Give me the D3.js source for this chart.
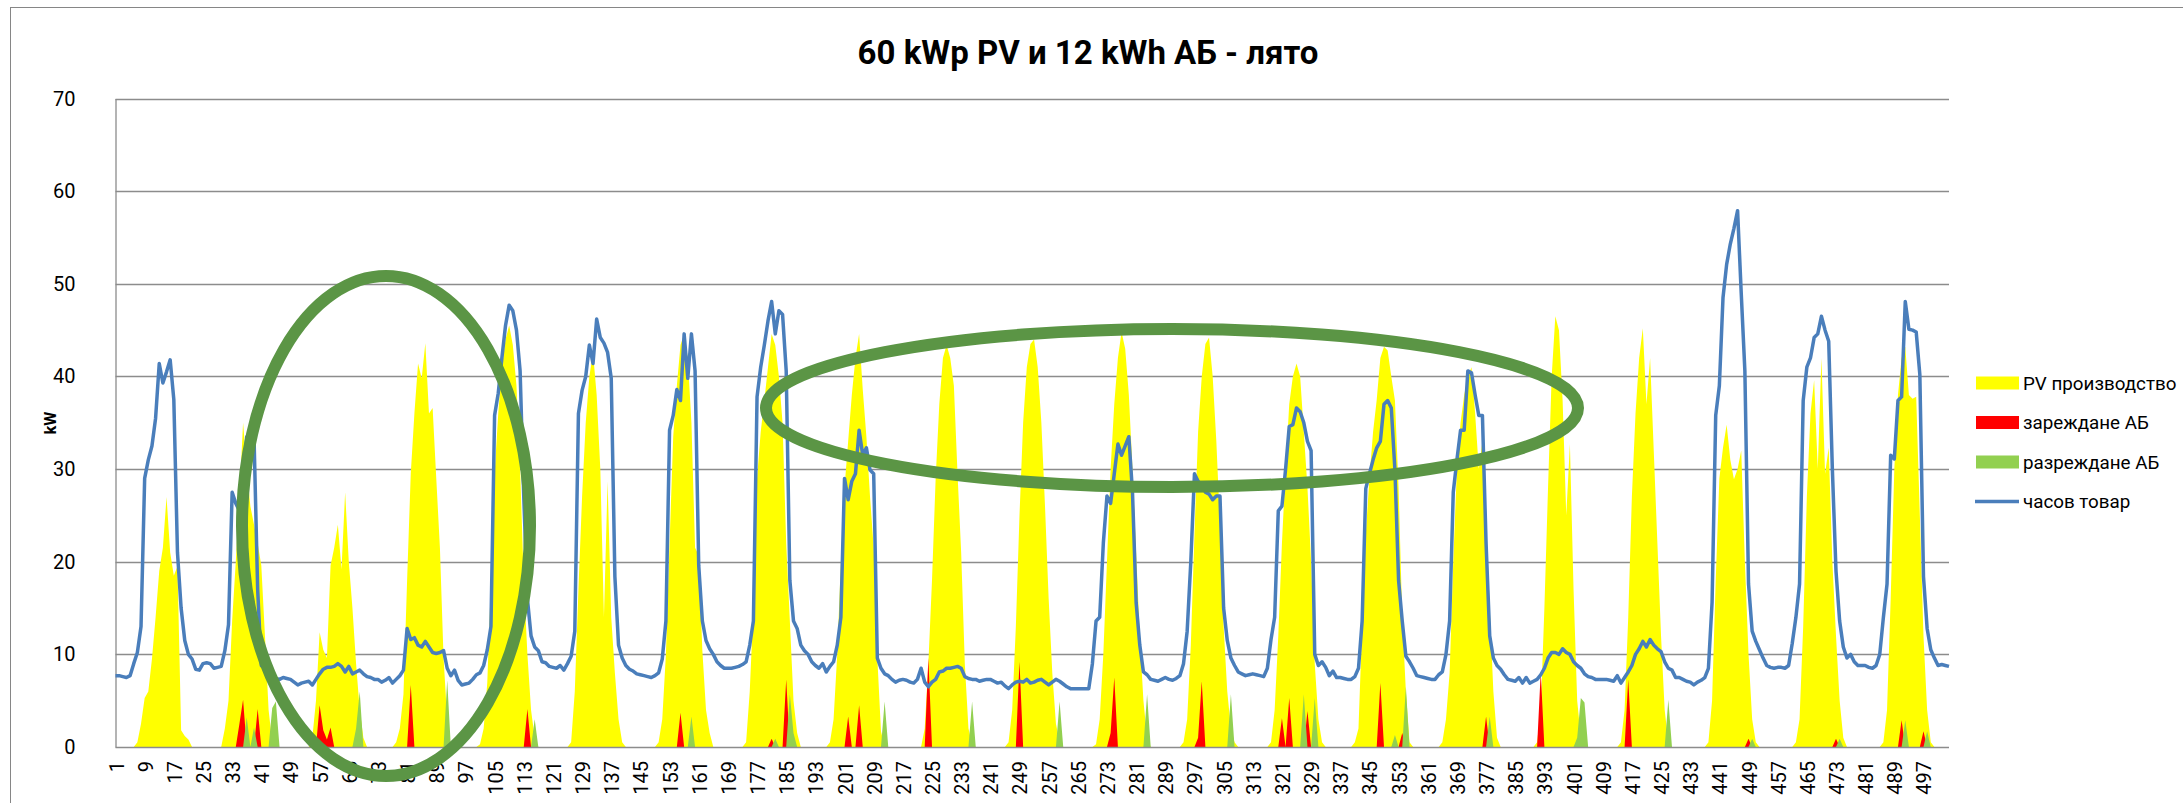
<!DOCTYPE html>
<html>
<head>
<meta charset="utf-8">
<script src="https://cdn.jsdelivr.net/npm/d3@7"></script>
<style>
  body { margin: 0; background: #fff; }
  text { font-family: Roboto, "Noto Sans", sans-serif; fill: #000; }
</style>
</head>
<body>
<script>
const width = 2183;
const height = 803;

// часове 1..504 (21 дни x 24 ч)
const hours = d3.range(1, 505);
const xTickLabels = d3.range(1, 505, 8);
const yTicks = [0, 10, 20, 30, 40, 50, 60, 70];
const seriesNames = ["PV производство", "зареждане АБ", "разреждане АБ", "часов товар"];

// PV производство, kW (по ден, 24 стойности)
const pv = [
  [0,0,0,0,0,0,0.5,2.5,5.3,6,9.5,14,19,21.5,27,21,18.5,19.5,1.8,1.2,0.8,0,0,0],
  [0,0,0,0,0,0,2,5,13.6,20,27,35,30,26,24,22,19.6,12,4,0.5,0,0,0,0],
  [0,0,0,0,0,0,1,5,12.4,10.5,9.6,19.6,21.5,24,19.2,27.5,20,15,9,4,1,0,0,0],
  [0,0,0,0,0,0.5,2,5.7,18,29.5,36,41.4,39.8,43.6,36,36.6,29,21.5,9.6,3,0,0,0,0],
  [0,0,0,0,0.3,2,7,18,29.5,36,41,44,45.5,43.4,39,30,18,10,4,1,0,0,0,0],
  [0,0,0,0,0,0.5,6,17,27,35,40,42.6,38,30,14,28.7,14,8,3,0.5,0,0,0,0],
  [0,0,0,0,0,0.5,3,10,22,33.5,39,43.4,44.6,42,35,21.5,20.7,10.4,4,1.5,0,0,0,0],
  [0,0,0,0,0,0.5,6,15,29,34,37.4,41,44.6,43.4,40,35,22,13.6,5,1.5,0,0,0,0],
  [0,0,0,0,0.5,3,10,20,28,33,38,42,44.6,38.6,33.5,27,21.5,9.6,1.7,0,0,0,0,0],
  [0,0,0,0,0,0,2,9,18,29,37,42,43.4,42,39,29.5,21,9,2,0.3,0,0,0,0],
  [0,0,0,0,0,0.5,4,13,25,35,41,43.5,44,41,35,26,16,8,2.5,0.5,0,0,0,0],
  [0,0,0,0,0,0.3,3,10,20,30,37,42,44.8,43,38,30,21,12,5,1,0,0,0,0],
  [0,0,0,0,0,0.5,3,11,23,34,40,43.5,44.2,40,33,24,13,6,2,0.5,0,0,0,0],
  [0,0,0,0,0,0.5,4,12,22,30,37,40,41.4,40,34,28,20,9,3,0.5,0,0,0,0],
  [0,0,0,0,0.5,2,13,23,29,34,37.5,42,43.2,42.8,40,37.4,28,14,6,0.5,0,0,0,0],
  [0,0,0,0,0.5,3,8,20,30,35,38,40,41,36,30,33,25,15,6,1,0,0,0,0],
  [0,0,0,0,0,0,0.5,4,15,28,40,46.5,45,37.4,25,32.7,17,5,1,0,0,0,0,0],
  [0,0,0,0,0,0.5,4,14,27,36,42,45.2,37,42,32,22,12,4,0.5,0,0,0,0,0],
  [0,0,0,0,0,0.5,5,18,29,32.3,34.8,31,28.9,30,32,20,10,3,0.5,0,0,0,0,0],
  [0,0,0,0,0,0.5,3,13,27,36,39.6,30,42,29.5,32.3,20,12,5,1,0,0,0,0,0],
  [0,0,0,0,0,0.5,4,16,30,38,42,43.2,38,37.6,37.8,25,12,4,0.5,0,0,0,0,0]
].flat();

// зареждане АБ, kW
const charge = [
  [0,0,0,0,0,0,0,0,0,0,0,0,0,0,0,0,0,0,0,0,0,0,0,0],
  [0,0,0,0,0,0,0,0,0,0,2.5,5.1,0,0,0,4.1,0,0,0,0,0,0,0,0],
  [0,0,0,0,0,0,0,0,4.5,1.8,0.8,2.1,0,0,0,0,0,0,0,0,0,0,0,0],
  [0,0,0,0,0,0,0,0,0,6.7,0,0,0,0,0,0,0,0,0,0,0,0,0,0],
  [0,0,0,0,0,0,0,0,0,0,0,0,0,0,0,0,0,4.1,0,0,0,0,0,0],
  [0,0,0,0,0,0,0,0,0,0,0,0,0,0,0,0,0,0,0,0,0,0,0,0],
  [0,0,0,0,0,0,0,0,0,0,0,3.7,0,0,0,0,0,0,0,0,0,0,0,0],
  [0,0,0,0,0,0,0,0,0,0,0,0,0.9,0,0,0,7.3,0,0,0,0,0,0,0],
  [0,0,0,0,0,0,0,0,0,3.3,0,0,4.5,0,0,0,0,0,0,0,0,0,0,0],
  [0,0,0,0,0,0,0,9.6,0,0,0,0,0,0,0,0,0,0,0,0,0,0,0,0],
  [0,0,0,0,0,0,0,0,9.2,0,0,0,0,0,0,0,0,0,0,0,0,0,0,0],
  [0,0,0,0,0,0,0,0,0,1.5,7.5,0,0,0,0,0,0,0,0,0,0,0,0,0],
  [0,0,0,0,0,0,0,0,0,1,7.1,0,0,0,0,0,0,0,0,0,0,0,0,0],
  [0,0,0,0,0,0,0,0,3.1,0,5.3,0,0,0,0,3.9,0,0,0,0,0,0,0,0],
  [0,0,0,0,0,0,0,0,0,0,0,6.9,0,0,0,0,0,1.5,0,0,0,0,0,0],
  [0,0,0,0,0,0,0,0,0,0,0,0,0,0,0,0,3.3,0,0,0,0,0,0,0],
  [0,0,0,0,0,0,0,8.1,0,0,0,0,0,0,0,0,0,0,0,0,0,0,0,0],
  [0,0,0,0,0,0,0,7.3,0,0,0,0,0,0,0,0,0,0,0,0,0,0,0,0],
  [0,0,0,0,0,0,0,0,0,0,0,0,0,0,0,0,0.9,0,0,0,0,0,0,0],
  [0,0,0,0,0,0,0,0,0,0,0,0,0,0,0,0,0.9,0,0,0,0,0,0,0],
  [0,0,0,0,0,0,0,0,0,0,2.9,0,0,0,0,0,1.7,0,0,0,0,0,0,0]
].flat();

// разреждане АБ, kW
const discharge = [
  [0,0,0,0,0,0,0,0,0,0,0,0,0,0,0,0,0,0,0,0,0,0,0,0],
  [0,0,0,0,0,0,0,0,0,0,0,0,3.2,0,2.1,0,0,0,0,4.2,4.9,0,0,0],
  [0,0,0,0,0,0,0,0,0,0,0,0,0,0,0,0,0,0,2,6,0,0,0,0],
  [0,0,0,0,0,0,0,0,0,0,0,0,0,0,0,0,0,0,0,7.2,0,0,0,0],
  [0,0,0,0,0,0,0,0,0,0,0,0,0,0,0,0,0,0,0,3,0,0,0,0],
  [0,0,0,0,0,0,0,0,0,0,0,0,0,0,0,0,0,0,0,0,0,0,0,0],
  [0,0,0,0,0,0,0,0,0,0,0,0,0,0,3.3,0,0,0,0,0,0,0,0,0],
  [0,0,0,0,0,0,0,0,0,0,0,0,0,0.9,0,0,0,5.7,1.5,0,0,0,0,0],
  [0,0,0,0,0,0,0,0,0,0,0,0,0,0,0,0,0,0,0,4.9,0,0,0,0],
  [0,0,0,0,0,0,0,0,0,0,0,0,0,0,0,0,0,0,0,4.9,0,0,0,0],
  [0,0,0,0,0,0,0,0,0,0,0,0,0,0,0,0,0,0,0,4.9,0,0,0,0],
  [0,0,0,0,0,0,0,0,0,0,0,0,0,0,0,0,0,0,0,5.7,0,0,0,0],
  [0,0,0,0,0,0,0,0,0,0,0,0,0,0,0,0,0,0,5.7,0,0,0,0,0],
  [0,0,0,0,0,0,0,0,0,0,0,0,0,0,5.7,0,0,5.3,0,0,0,0,0,0],
  [0,0,0,0,0,0,0,0,0,0,0,0,0,0,0,1.3,0,0,6.5,0,0,0,0,0],
  [0,0,0,0,0,0,0,0,0,0,0,0,0,0,0,0,0,3.3,0,0,0,0,0,0],
  [0,0,0,0,0,0,0,0,0,0,0,0,0,0,0,0,0,1,5.3,4.8,0,0,0,0],
  [0,0,0,0,0,0,0,0,0,0,0,0,0,0,0,0,0,0,5.1,0,0,0,0,0],
  [0,0,0,0,0,0,0,0,0,0,0,0,0,0,0,0,0,0.9,0,0,0,0,0,0],
  [0,0,0,0,0,0,0,0,0,0,0,0,0,0,0,0,0,0.9,0,0,0,0,0,0],
  [0,0,0,0,0,0,0,0,0,0,0,2.9,0,0,0,0,0,1.7,0,0,0,0,0,0]
].flat();

// часов товар, kW
const load = [
  [7.7,7.7,7.6,7.5,7.7,9.0,10.2,13,29,31,32.5,35.5,41.4,39.3,40.5,41.8,37.5,21,15,11.5,10,9.5,8.4,8.3],
  [9.0,9.1,9.0,8.5,8.6,8.7,10.4,13.2,27.5,26.3,25.5,29,33.5,33.5,33.5,17,8.8,8.5,8.1,7.8,7.4,7.3,7.5,7.4],
  [7.3,7.0,6.7,6.9,7.0,7.1,6.7,7.3,7.9,8.4,8.6,8.6,8.7,9.0,8.7,8.1,8.7,7.9,8.1,8.3,7.9,7.6,7.5,7.3],
  [7.3,7.0,7.2,7.5,6.9,7.3,7.7,8.3,12.8,11.6,11.8,11.0,10.8,11.4,10.8,10.2,10.1,10.2,10.4,8.5,7.7,8.3,7.2,6.7],
  [6.8,6.9,7.3,7.8,8.0,8.8,10.5,13,35.8,38.2,42,45.5,47.7,47.1,45,40.6,27,16,12,10.8,10.4,9.2,9.1,8.7],
  [8.6,8.5,8.8,8.3,9.0,9.8,12.5,36,38.5,40,43.4,41.4,46.2,44.2,43.6,42.6,39.8,18.4,11,9.6,8.8,8.4,8.2,7.9],
  [7.8,7.7,7.6,7.5,7.7,8.0,9.5,13.6,34.2,35.8,38.6,37.4,44.6,39.8,44.6,40.6,19.6,13.6,11.5,10.6,10,9.2,8.8,8.5],
  [8.5,8.5,8.6,8.7,8.9,9.2,11,13.6,37.8,41,43.4,46,48.1,44.6,47.1,46.7,40.6,18,13.6,12.8,11,10.4,10,9.2],
  [8.8,8.5,9.0,8.1,8.7,9.2,11,14,29,26.7,28.7,29.5,34.2,31.5,32.3,29.9,29.5,9.6,8.5,7.9,7.7,7.3,7.0,7.2],
  [7.3,7.2,7.0,6.9,7.3,8.5,7.0,6.5,7.0,7.3,8.1,8.2,8.5,8.5,8.6,8.7,8.5,7.6,7.4,7.3,7.3,7.1,7.2,7.3],
  [7.3,7.1,6.9,7.0,6.6,6.3,6.7,7.0,7.1,7.0,7.3,6.9,7.0,7.2,7.3,7.0,6.7,7.0,7.3,7.1,6.8,6.5,6.3,6.3],
  [6.3,6.3,6.3,6.3,9,13.6,14,22,27.1,26.3,29.5,32.7,31.5,32.5,33.5,27.5,15.6,11,8.1,7.8,7.3,7.2,7.1,7.3],
  [7.5,7.3,7.2,7.4,7.7,9,12.5,20,29.5,28.7,28.3,27.5,27.3,26.7,27.1,27.1,15,11.5,9.6,8.8,8.1,7.9,7.7,7.8],
  [7.9,7.8,7.7,7.6,8.5,11.6,14,25.5,26,30,34.6,34.8,36.6,36.2,35,33,32,10,8.8,9.2,8.6,7.7,8.2,7.5],
  [7.5,7.4,7.3,7.3,7.6,8.5,13.6,27.9,29.5,31,32.3,33,37,37.4,36.6,29.9,18,13.6,9.8,9.2,8.5,7.7,7.6,7.5],
  [7.4,7.3,7.3,7.8,8.1,10,13.6,27.5,31,34.2,34.2,40.6,40.4,38,35.8,35.8,22,12,9.6,8.8,8.4,7.8,7.3,7.2],
  [7.1,7.5,6.9,7.5,6.9,7.1,7.3,7.8,8.5,9.6,10.2,10.2,10,10.6,10.2,10,9.2,8.8,8.5,7.9,7.6,7.5,7.3,7.3],
  [7.3,7.3,7.2,7.1,7.7,6.9,7.5,8.1,8.8,10,10.6,11.4,10.8,11.6,11,10.6,10.3,9.2,8.5,8.3,7.5,7.5,7.3,7.1],
  [7.0,6.7,7.0,7.2,7.5,8.5,15.6,35.8,39,48.5,52.1,54.3,56,57.9,49,40.6,17.6,12.5,11.4,10.5,9.6,8.8,8.6,8.5],
  [8.6,8.6,8.5,8.8,11.2,14,17.6,37.4,41,42,44.2,44.6,46.5,45,43.8,30,19,13.6,10.8,9.6,10,9.2,8.8,8.8],
  [8.8,8.6,8.5,8.8,10,14,17.6,31.5,31.1,37.4,37.8,48.1,45.1,45,44.8,40.2,18.4,12.8,10.5,9.6,8.8,8.9,8.8,8.7]
].flat();

// цветове
const colPV = "#ffff00";
const colCharge = "#ff0000";
const colDischarge = "#92d050";
const colLoad = "#4a7ebb";
const colGrid = "#8c8c8c";
const colMark = "#5b9545";

const svg = d3.select("body").append("svg")
  .attr("width", width)
  .attr("height", height);

// рамка на диаграмата
svg.append("rect")
  .attr("x", 10.5).attr("y", 7.5)
  .attr("width", 2300).attr("height", 900)
  .attr("fill", "#fff")
  .attr("stroke", "#868686")
  .attr("stroke-width", 1);

const plot = { left: 115.5, right: 1949, top: 98.6, bottom: 747 };

const x = d3.scalePoint()
  .domain(hours)
  .range([plot.left, plot.right]);

const y = d3.scaleLinear()
  .domain([0, 70])
  .range([plot.bottom, plot.top]);

// заглавие
svg.append("text")
  .attr("x", 1088)
  .attr("y", 64)
  .attr("text-anchor", "middle")
  .style("font-size", "33px")
  .style("font-weight", "bold")
  .text("60 kWp PV и 12 kWh АБ - лято");

// хоризонтални линии
svg.append("g")
  .selectAll("line")
  .data(yTicks.filter(d => d > 0))
  .join("line")
  .attr("x1", plot.left).attr("x2", plot.right)
  .attr("y1", d => Math.round(y(d)) + 0.5)
  .attr("y2", d => Math.round(y(d)) + 0.5)
  .attr("stroke", colGrid)
  .attr("stroke-width", 1.3);

// площи
const area = d3.area()
  .x((d, i) => x(hours[i]))
  .y0(y(0))
  .y1(d => y(d));

svg.append("path").datum(pv).attr("d", area).attr("fill", colPV);
svg.append("path").datum(charge).attr("d", area).attr("fill", colCharge);
svg.append("path").datum(discharge).attr("d", area).attr("fill", colDischarge);

// оси
const yAxis = svg.append("g")
  .attr("transform", `translate(${plot.left},0)`)
  .call(d3.axisLeft(y).tickValues(yTicks).tickSize(0).tickPadding(40).tickFormat(d3.format("d")));
yAxis.select(".domain").attr("stroke", colGrid).attr("stroke-width", 1.3);
yAxis.selectAll("text").style("font-size", "20px").attr("font-family", null);

svg.append("line")
  .attr("x1", plot.left).attr("x2", plot.right)
  .attr("y1", Math.round(y(0)) + 0.5).attr("y2", Math.round(y(0)) + 0.5)
  .attr("stroke", colGrid).attr("stroke-width", 1.3);

svg.append("g")
  .selectAll("text")
  .data(xTickLabels)
  .join("text")
  .attr("transform", d => `translate(${x(d) + 1},${plot.bottom + 14}) rotate(-90)`)
  .attr("text-anchor", "end")
  .attr("dy", "0.35em")
  .style("font-size", "20px")
  .text(d => d);

// kW
svg.append("text")
  .attr("transform", "translate(50,423) rotate(-90)")
  .attr("text-anchor", "middle")
  .attr("dy", "0.35em")
  .style("font-size", "16px")
  .style("font-weight", "bold")
  .text("kW");

// часов товар
const line = d3.line()
  .x((d, i) => x(hours[i]))
  .y(d => y(d));

svg.append("path")
  .datum(load)
  .attr("d", line)
  .attr("fill", "none")
  .attr("stroke", colLoad)
  .attr("stroke-width", 3.5)
  .attr("stroke-linejoin", "round");

// легенда
const legendY = [383, 422.5, 462, 501.5];
const legend = svg.append("g");
[colPV, colCharge, colDischarge].forEach((c, i) => {
  legend.append("rect")
    .attr("x", 1976).attr("y", legendY[i] - 6.5)
    .attr("width", 43).attr("height", 13)
    .attr("fill", c);
});
legend.append("line")
  .attr("x1", 1975).attr("x2", 2019)
  .attr("y1", legendY[3]).attr("y2", legendY[3])
  .attr("stroke", colLoad).attr("stroke-width", 3.5);
legend.selectAll("text")
  .data(seriesNames)
  .join("text")
  .attr("x", 2023)
  .attr("y", (d, i) => legendY[i])
  .attr("dy", "0.35em")
  .style("font-size", "18.8px")
  .text(d => d);

// маркировки (елипси)
svg.append("ellipse")
  .attr("cx", 386).attr("cy", 526)
  .attr("rx", 144).attr("ry", 250)
  .attr("fill", "none")
  .attr("stroke", colMark)
  .attr("stroke-width", 12);

svg.append("ellipse")
  .attr("cx", 1172).attr("cy", 408)
  .attr("rx", 406).attr("ry", 79)
  .attr("fill", "none")
  .attr("stroke", colMark)
  .attr("stroke-width", 12);
</script>
</body>
</html>
